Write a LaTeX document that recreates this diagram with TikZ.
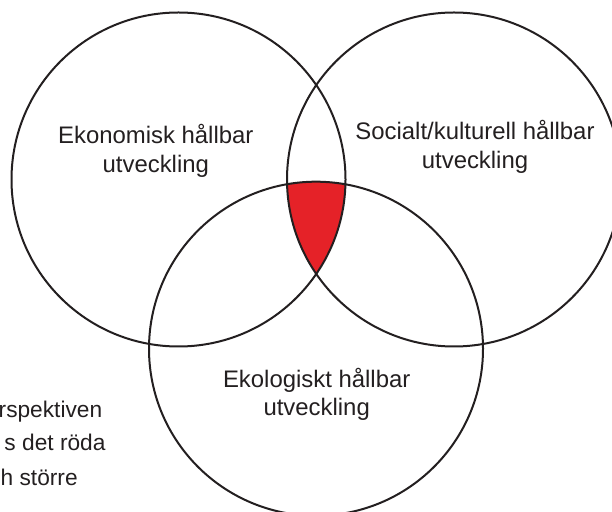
\documentclass[tikz,border=0pt]{standalone}
\usepackage{fontspec}
\setmainfont{Liberation Sans}

\definecolor{vennred}{RGB}{229,34,40}
\definecolor{inkgray}{RGB}{35,31,32}

\tikzset{
	ring/.style={draw=inkgray, line width=2pt},
	areatext/.style={text=inkgray, align=center, inner sep=0pt, anchor=base,
		font=\fontsize{23.9}{28.5}\selectfont},
	sidetext/.style={text=inkgray, inner sep=0pt, anchor=base west,
		font=\fontsize{22.7}{27}\selectfont}
}

\begin{document}
\begin{tikzpicture}[x=1pt, y=1pt]
		\useasboundingbox (0,0) rectangle (612,511);
		\clip (0,0) rectangle (612,511);
		\coordinate (eko) at (178.5,331.5);
		\coordinate (soc) at (454,331.5);
		\coordinate (ekol) at (316,162.3);
		% the part that all three share
		\begin{scope}
			\clip (eko) circle[radius=167pt];
			\clip (soc) circle[radius=167pt];
			\fill[vennred] (ekol) circle[radius=167pt];
		\end{scope}
		\draw[ring] (eko) circle[radius=167pt];
		\draw[ring] (soc) circle[radius=167pt];
		\draw[ring] (ekol) circle[radius=167pt];
		% base = last line
		\node[areatext] (ekotext) at (155.8,338.5) {Ekonomisk hållbar\\utveckling};
		\node[areatext] (soctext) at (475,342.5) {Socialt/kulturell hållbar\\utveckling};
		\node[areatext] (ekoltext) at (316.7,95.5) {Ekologiskt hållbar\\utveckling};
		\node[sidetext] (note1) at (-1.5,93.7) {rspektiven};
		\node[sidetext] (note2) at (4.3,60.3) {s det röda};
		\node[sidetext] (note3) at (0.5,26) {h större};
	\end{tikzpicture}
\end{document}
